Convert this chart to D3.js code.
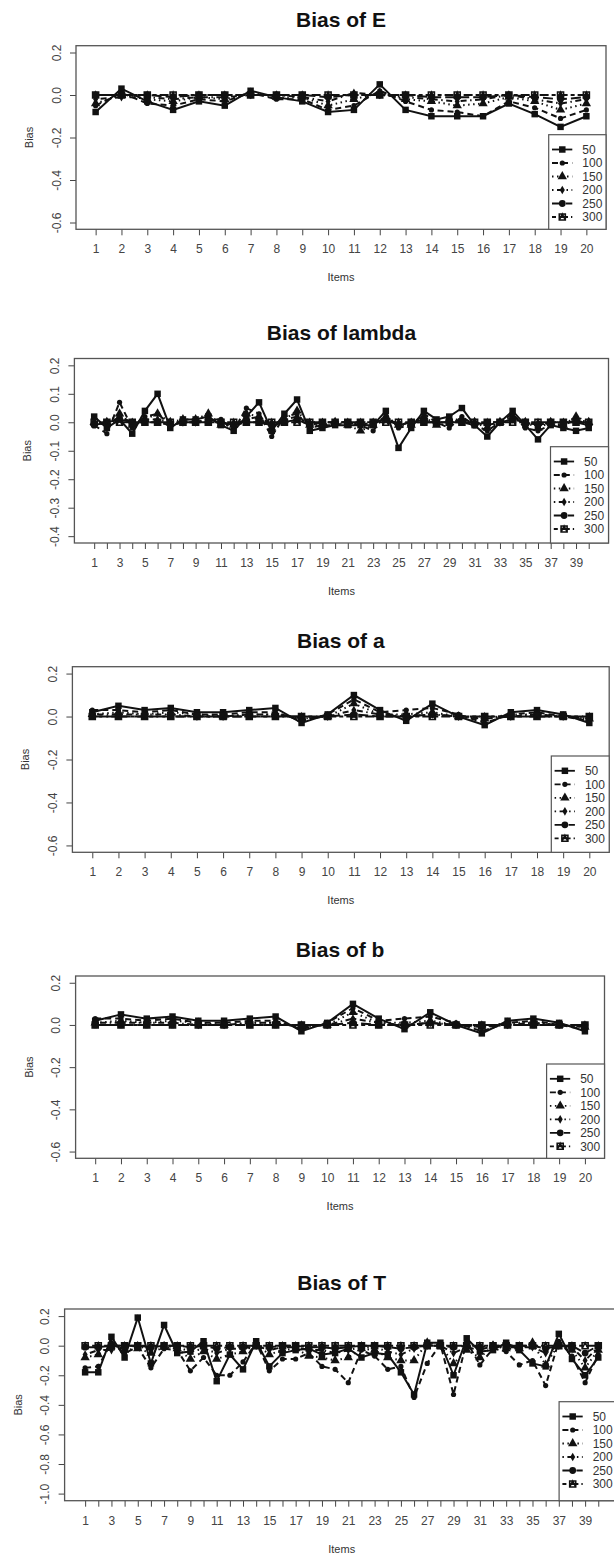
<!DOCTYPE html>
<html>
<head>
<meta charset="utf-8">
<script src="https://cdn.jsdelivr.net/npm/d3@7"></script>
<style>
body { margin: 0; background: #fff; }
svg { display: block; font-family: "Liberation Sans", Arial, sans-serif; }
</style>
</head>
<body>
<svg id="chart" width="614" height="1560"></svg>
<script>
// sample sizes (legend)
const sampleSizes = ["50", "100", "150", "200", "250", "300"];

// Bias of E, items 1..20
const E50  = [-0.08, 0.03, -0.03, -0.07, -0.03, -0.05, 0.02, -0.01, -0.03, -0.08, -0.07, 0.05, -0.07, -0.10, -0.10, -0.10, -0.04, -0.09, -0.15, -0.10];
const E100 = [-0.05, 0.01, -0.04, -0.05, -0.02, -0.03, 0.01, -0.02, -0.02, -0.07, -0.05, 0.02, -0.03, -0.07, -0.08, -0.10, -0.03, -0.06, -0.11, -0.07];
const E150 = [-0.04, 0.00, -0.02, -0.03, -0.01, -0.02, 0.01, -0.01, -0.01, -0.05, -0.02, 0.01, -0.02, -0.03, -0.05, -0.04, -0.01, -0.03, -0.07, -0.04];
const E200 = [-0.02, -0.01, -0.01, -0.02, -0.01, -0.01, 0.00, 0.00, -0.01, -0.03, 0.01, 0.00, -0.01, -0.02, -0.03, -0.02, 0.00, -0.02, -0.04, -0.02];
const E250 = [0.00, 0.00, 0.00, -0.01, 0.00, 0.00, 0.00, 0.00, 0.00, -0.01, 0.00, 0.00, 0.00, -0.01, -0.01, -0.01, 0.00, -0.01, -0.02, -0.01];
const E300 = [0, 0, 0, 0, 0, 0, 0, 0, 0, 0, 0, 0, 0, 0, 0, 0, 0, 0, 0, 0];

// Bias of lambda, items 1..40
const L50  = [0.02, -0.02, 0.01, -0.04, 0.04, 0.10, -0.02, 0.01, 0.01, 0.02, -0.01, -0.03, 0.02, 0.07, -0.03, 0.03, 0.08, -0.03, -0.02, -0.01, -0.01, -0.01, -0.01, 0.04, -0.09, -0.02, 0.04, 0.01, 0.02, 0.05, -0.01, -0.05, 0.00, 0.04, -0.01, -0.06, -0.01, -0.02, -0.03, -0.02];
const L100 = [-0.01, -0.04, 0.07, -0.02, 0.02, 0.03, -0.01, 0.00, 0.00, 0.01, 0.01, -0.03, 0.05, 0.03, -0.05, 0.02, 0.03, -0.02, -0.01, -0.01, 0.00, -0.01, -0.03, 0.03, -0.02, -0.01, 0.03, 0.00, -0.02, 0.02, -0.01, -0.03, 0.00, 0.03, -0.02, -0.03, -0.01, -0.01, 0.01, -0.01];
const L150 = [0.00, 0.00, 0.03, -0.01, 0.01, 0.03, 0.00, 0.01, 0.01, 0.03, -0.01, -0.01, 0.03, 0.02, -0.02, 0.01, 0.04, -0.01, -0.01, 0.00, -0.01, -0.03, -0.01, 0.02, -0.01, -0.01, 0.02, -0.01, 0.01, 0.01, 0.00, -0.02, 0.00, 0.02, 0.00, -0.02, 0.00, -0.01, 0.02, 0.00];
const L200 = [0.00, -0.01, 0.02, 0.00, 0.01, 0.01, 0.00, 0.00, 0.00, 0.01, 0.00, -0.01, 0.01, 0.02, -0.01, 0.01, 0.02, 0.00, 0.00, 0.00, 0.00, -0.01, 0.00, 0.01, -0.01, 0.00, 0.01, 0.00, 0.00, 0.01, 0.00, -0.01, 0.00, 0.01, 0.00, -0.01, 0.00, 0.00, 0.01, 0.00];
const L250 = [-0.01, 0.00, 0.01, 0.00, 0.00, 0.00, -0.01, 0.00, 0.00, 0.00, 0.00, -0.01, 0.00, 0.00, -0.01, 0.00, 0.01, -0.01, 0.00, 0.00, 0.00, 0.00, 0.00, 0.01, -0.01, 0.00, 0.00, 0.00, 0.00, 0.00, -0.01, 0.00, 0.00, 0.01, 0.00, -0.01, 0.00, 0.00, 0.00, -0.01];
const L300 = [0, 0, 0, 0, 0, 0, 0, 0, 0, 0, 0, 0, 0, 0, 0, 0, 0, 0, 0, 0, 0, 0, 0, 0, 0, 0, 0, 0, 0, 0, 0, 0, 0, 0, 0, 0, 0, 0, 0, 0];

// Bias of a, items 1..20
const A50  = [0.02, 0.05, 0.03, 0.04, 0.02, 0.02, 0.03, 0.04, -0.03, 0.01, 0.10, 0.03, -0.02, 0.06, 0.00, -0.04, 0.02, 0.03, 0.01, -0.03];
const A100 = [0.03, 0.03, 0.02, 0.03, 0.01, 0.01, 0.02, 0.02, -0.02, 0.01, 0.08, 0.02, 0.03, 0.04, 0.01, -0.03, 0.01, 0.02, 0.00, -0.02];
const A150 = [0.01, 0.02, 0.01, 0.02, 0.01, 0.00, 0.01, 0.01, -0.01, 0.00, 0.06, 0.01, 0.01, 0.02, 0.00, -0.01, 0.01, 0.01, 0.00, -0.01];
const A200 = [0.01, 0.01, 0.01, 0.01, 0.00, 0.00, 0.01, 0.01, -0.01, 0.00, 0.03, 0.01, 0.00, 0.01, 0.00, -0.01, 0.00, 0.01, 0.00, -0.01];
const A250 = [0.00, 0.00, 0.00, 0.00, 0.00, 0.00, 0.00, 0.00, 0.00, 0.00, 0.01, 0.00, 0.00, 0.01, 0.00, 0.00, 0.00, 0.00, 0.00, 0.00];
const A300 = [0, 0, 0, 0, 0, 0, 0, 0, 0, 0, 0, 0, 0, 0, 0, 0, 0, 0, 0, 0];

// Bias of b, items 1..20
const B50  = [0.02, 0.05, 0.03, 0.04, 0.02, 0.02, 0.03, 0.04, -0.03, 0.01, 0.10, 0.03, -0.02, 0.06, 0.00, -0.04, 0.02, 0.03, 0.01, -0.03];
const B100 = [0.03, 0.03, 0.02, 0.03, 0.01, 0.01, 0.02, 0.02, -0.02, 0.01, 0.08, 0.02, 0.03, 0.04, 0.01, -0.03, 0.01, 0.02, 0.00, -0.02];
const B150 = [0.01, 0.02, 0.01, 0.02, 0.01, 0.00, 0.01, 0.01, -0.01, 0.00, 0.06, 0.01, 0.01, 0.02, 0.00, -0.01, 0.01, 0.01, 0.00, -0.01];
const B200 = [0.01, 0.01, 0.01, 0.01, 0.00, 0.00, 0.01, 0.01, -0.01, 0.00, 0.03, 0.01, 0.00, 0.01, 0.00, -0.01, 0.00, 0.01, 0.00, -0.01];
const B250 = [0.00, 0.00, 0.00, 0.00, 0.00, 0.00, 0.00, 0.00, 0.00, 0.00, 0.01, 0.00, 0.00, 0.01, 0.00, 0.00, 0.00, 0.00, 0.00, 0.00];
const B300 = [0, 0, 0, 0, 0, 0, 0, 0, 0, 0, 0, 0, 0, 0, 0, 0, 0, 0, 0, 0];

// Bias of T, items 1..40
const T50  = [-0.18, -0.18, 0.06, -0.08, 0.19, -0.12, 0.14, -0.05, -0.04, 0.03, -0.24, -0.06, -0.16, 0.03, -0.14, -0.05, -0.03, -0.02, -0.06, -0.05, -0.02, -0.08, -0.05, -0.06, -0.18, -0.33, 0.02, 0.02, -0.20, 0.05, -0.04, -0.03, 0.02, -0.03, -0.12, -0.14, 0.08, -0.09, -0.20, -0.08];
const T100 = [-0.15, -0.14, 0.02, -0.05, -0.01, -0.15, -0.02, -0.03, -0.17, -0.08, -0.20, -0.20, -0.11, 0.02, -0.17, -0.09, -0.09, -0.05, -0.14, -0.16, -0.25, -0.03, -0.07, -0.16, -0.14, -0.35, -0.12, 0.01, -0.33, 0.03, -0.13, -0.02, -0.04, -0.13, -0.10, -0.27, 0.03, -0.07, -0.25, -0.06];
const T150 = [-0.08, -0.06, 0.01, -0.03, -0.02, -0.05, -0.01, -0.02, -0.09, -0.04, -0.09, -0.06, -0.04, 0.01, -0.06, -0.03, -0.02, -0.07, -0.08, -0.10, -0.08, -0.02, -0.03, -0.08, -0.10, -0.10, 0.02, 0.00, -0.12, -0.03, -0.08, 0.00, -0.02, -0.02, 0.02, -0.13, 0.01, -0.03, -0.15, -0.03];
const T200 = [-0.06, -0.03, -0.03, -0.01, 0.00, -0.03, 0.00, -0.01, -0.04, -0.02, -0.05, -0.02, -0.02, 0.00, -0.03, -0.01, -0.01, -0.03, -0.03, -0.05, -0.03, -0.01, -0.01, -0.04, -0.06, -0.02, 0.00, 0.00, -0.05, -0.01, -0.03, 0.00, -0.01, -0.01, -0.01, -0.05, 0.00, -0.01, -0.10, -0.01];
const T250 = [-0.01, -0.01, 0.00, 0.00, 0.00, -0.01, 0.00, 0.00, -0.01, 0.00, -0.02, -0.01, -0.01, 0.00, -0.01, 0.00, 0.00, -0.01, -0.01, -0.02, -0.01, 0.00, 0.00, -0.01, -0.02, -0.01, 0.00, 0.00, -0.01, 0.00, -0.01, 0.00, 0.00, 0.00, 0.00, -0.02, 0.00, 0.00, -0.05, 0.00];
const T300 = [0, 0, 0, 0, 0, 0, 0, 0, 0, 0, 0, 0, 0, 0, 0, 0, 0, 0, 0, 0, 0, 0, 0, 0, 0, 0, 0, 0, 0, 0, 0, 0, 0, 0, 0, 0, 0, 0, 0, 0];

// y tick values
const ticks06 = [-0.6, -0.4, -0.2, 0.0, 0.2];
const ticks04 = [-0.4, -0.3, -0.2, -0.1, 0.0, 0.1, 0.2];
const ticks10 = [-1.0, -0.8, -0.6, -0.4, -0.2, 0.0, 0.2];

var panels = [
    { title: "Bias of E", series: [E50, E100, E150, E200, E250, E300], yTicks: ticks06,
      box: { l: 76, r: 606, t: 45.7, b: 229.3 }, leg: { x: 548.7, y: 134.7 } },
    { title: "Bias of lambda", series: [L50, L100, L150, L200, L250, L300], yTicks: ticks04,
      box: { l: 74.4, r: 608.5, t: 358.5, b: 543 }, leg: { x: 550.5, y: 446.7 } },
    { title: "Bias of a", series: [A50, A100, A150, A200, A250, A300], yTicks: ticks06,
      box: { l: 72.4, r: 609.2, t: 666.7, b: 852.3 }, leg: { x: 551.3, y: 756 } },
    { title: "Bias of b", series: [B50, B100, B150, B200, B250, B300], yTicks: ticks06,
      box: { l: 75.6, r: 604.5, t: 976, b: 1158.3 }, leg: { x: 546.6, y: 1064 } },
    { title: "Bias of T", series: [T50, T100, T150, T200, T250, T300], yTicks: ticks10,
      box: { l: 64.6, r: 618.8, t: 1309, b: 1500.7 }, leg: { x: 559.1, y: 1401.7 } }
];

var svg = d3.select("#chart");
var ink = "#111";
// lty 1..6 like R
var dashes = [null, "6,4", "1.5,3.5", "1.5,3.5,6,3.5", "10,4", "4,3,9,3"];

function drawMarker(g, k, cx, cy) {
    if (k == 0) {
        g.append("path").attr("d", d3.symbol(d3.symbolSquare, 42)())
            .attr("transform", `translate(${cx},${cy})`).attr("fill", ink);
    } else if (k == 1) {
        g.append("circle").attr("cx", cx).attr("cy", cy).attr("r", 2.6).attr("fill", ink);
    } else if (k == 2) {
        g.append("path").attr("d", d3.symbol(d3.symbolTriangle, 38)())
            .attr("transform", `translate(${cx},${cy})`).attr("fill", ink);
    } else if (k == 3) {
        g.append("path").attr("d", d3.symbol(d3.symbolDiamond, 22)())
            .attr("transform", `translate(${cx},${cy})`).attr("fill", ink);
    } else if (k == 4) {
        g.append("circle").attr("cx", cx).attr("cy", cy).attr("r", 3.4).attr("fill", ink);
    } else {
        // square with a triangle inside (pch 14)
        var p = d3.path(), s = 3;
        p.rect(cx - s, cy - s, 2 * s, 2 * s);
        p.moveTo(cx - s, cy + s); p.lineTo(cx, cy - s); p.lineTo(cx + s, cy + s);
        g.append("path").attr("d", p.toString()).attr("fill", "none")
            .attr("stroke", ink).attr("stroke-width", 1.6);
    }
}

panels.forEach(function (p) {
    var n = p.series[0].length;
    var ext = 0.04 * (n - 1);
    var x = d3.scaleLinear().domain([1 - ext, n + ext]).range([p.box.l, p.box.r]);
    var ymin = p.yTicks[0], ymax = p.yTicks[p.yTicks.length - 1];
    var ye = 0.04 * (ymax - ymin);
    var y = d3.scaleLinear().domain([ymin - ye, ymax + ye]).range([p.box.b, p.box.t]);
    var g = svg.append("g");
    var cx = (p.box.l + p.box.r) / 2;

    g.append("text").attr("x", cx).attr("y", p.box.t - 19)
        .attr("text-anchor", "middle").attr("font-weight", "bold")
        .attr("font-size", 21).attr("fill", ink).text(p.title);

    // x axis
    var items = d3.range(1, n + 1);
    var xAxis = d3.axisBottom(x).tickValues(items).tickSize(6).tickPadding(9.5)
        .tickFormat(d => (n > 20 && d % 2 == 0) ? "" : d);
    g.append("g").attr("transform", `translate(0,${p.box.b})`).call(xAxis)
        .attr("font-size", 12).attr("font-family", null).attr("color", "#444")
        .call(a => a.select(".domain").remove());

    // y axis
    var yAxis = d3.axisLeft(y).tickValues(p.yTicks).tickSize(6).tickFormat(d => d.toFixed(1));
    var ya = g.append("g").attr("transform", `translate(${p.box.l},0)`).call(yAxis)
        .attr("font-size", 12).attr("font-family", null).attr("color", "#444");
    ya.select(".domain").remove();
    ya.selectAll(".tick text").attr("x", null).attr("dy", "0.35em")
        .attr("text-anchor", "middle").attr("transform", "translate(-19.5,0) rotate(-90)");

    g.append("text").attr("x", cx).attr("y", p.box.b + 52).attr("text-anchor", "middle")
        .attr("font-size", 11).attr("fill", "#333").text("Items");
    g.append("text").attr("transform", `translate(${p.box.l - 43},${(p.box.t + p.box.b) / 2}) rotate(-90)`)
        .attr("text-anchor", "middle").attr("font-size", 11).attr("fill", "#333").text("Bias");

    // series
    var line = d3.line().x((d, i) => x(i + 1)).y(d => y(d));
    p.series.forEach(function (vals, k) {
        var sg = g.append("g");
        sg.append("path").attr("d", line(vals)).attr("fill", "none")
            .attr("stroke", ink).attr("stroke-width", 2)
            .attr("stroke-dasharray", dashes[k]);
        vals.forEach((v, i) => drawMarker(sg, k, x(i + 1), y(v)));
    });

    // box
    g.append("rect").attr("x", p.box.l).attr("y", p.box.t)
        .attr("width", p.box.r - p.box.l).attr("height", p.box.b - p.box.t)
        .attr("fill", "none").attr("stroke", "#555").attr("stroke-width", 1.3);

    // legend
    var lg = g.append("g");
    lg.append("rect").attr("x", p.leg.x).attr("y", p.leg.y)
        .attr("width", p.box.r - p.leg.x).attr("height", p.box.b - p.leg.y)
        .attr("fill", "#fff").attr("stroke", "#555").attr("stroke-width", 1.2);
    sampleSizes.forEach(function (s, k) {
        var ry = p.leg.y + 14.8 + k * 13.5;
        lg.append("line").attr("x1", p.leg.x + 3.3).attr("x2", p.leg.x + 23.6)
            .attr("y1", ry).attr("y2", ry).attr("stroke", ink).attr("stroke-width", 1.8)
            .attr("stroke-dasharray", dashes[k]);
        drawMarker(lg, k, p.leg.x + 13.6, ry);
        lg.append("text").attr("x", p.leg.x + 33.6).attr("y", ry).attr("dy", "0.35em")
            .attr("font-size", 12).attr("fill", "#333").text(s);
    });
});
</script>
</body>
</html>
